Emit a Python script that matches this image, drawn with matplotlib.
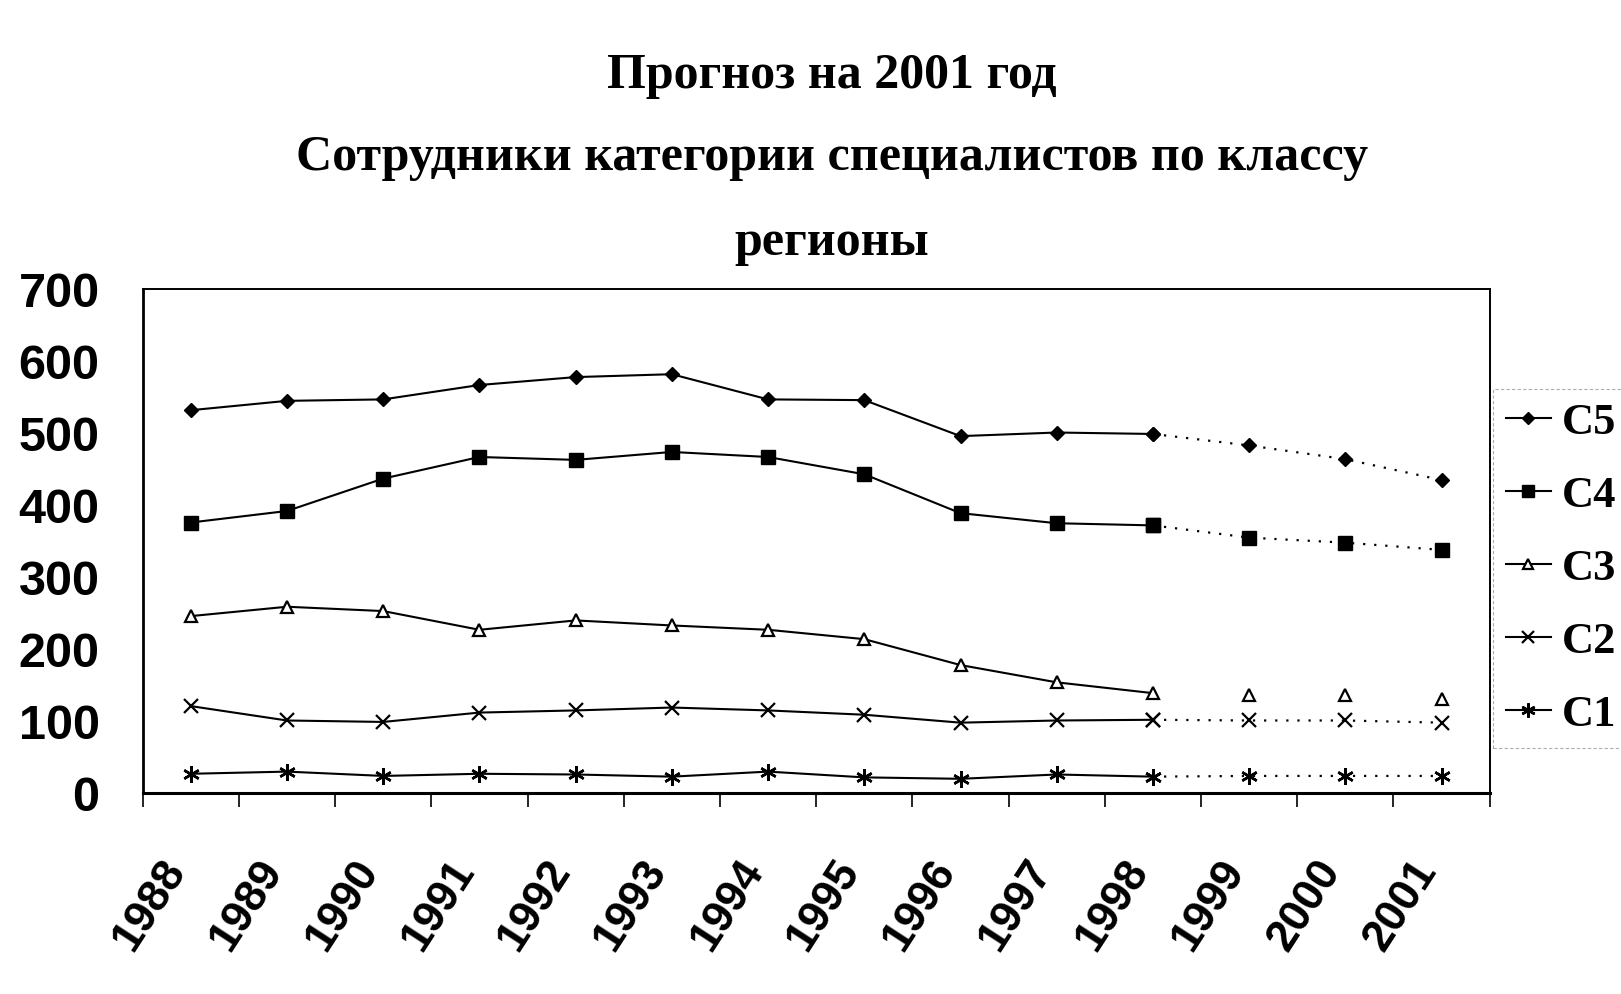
import matplotlib
matplotlib.use("Agg")
import matplotlib.pyplot as plt
import matplotlib.transforms as mtransforms
import numpy as np

years = ["1988", "1989", "1990", "1991", "1992", "1993", "1994",
         "1995", "1996", "1997", "1998", "1999", "2000", "2001"]
c5 = [532, 545, 547, 567, 578, 582, 547, 546, 496, 501, 499, 483, 464, 435]
c4 = [376, 392, 437, 467, 463, 474, 467, 443, 389, 375, 372, 355, 348, 338]
c3 = [246, 259, 253, 227, 240, 233, 227, 214, 178, 154, 139, 136, 136, 131]
c2 = [121, 101, 99, 112, 115, 119, 115, 109, 98, 101, 102, 101, 101, 98]
c1 = [27, 30, 24, 27, 26, 23, 30, 22, 20, 26, 23, 24, 24, 24]
names = ["C5", "C4", "C3", "C2", "C1"]
last_actual = "1998"

title_lines = ["Прогноз на 2001 год",
               "Сотрудники категории специалистов по классу",
               "регионы"]

fig = plt.figure(figsize=(16.21, 9.94), dpi=100)
ax = fig.add_axes([0.088, 0.202, 0.831, 0.507])

x = np.arange(len(years))
k = years.index(last_actual)

styles = [
    dict(marker="D", ms=7, mfc="black", mec="black"),
    dict(marker="s", ms=10, mfc="black", mec="black"),
    dict(marker="^", ms=9, mfc="white", mec="black", mew=1.6),
    dict(marker="x", ms=10, mfc="black", mec="black", mew=1.6),
    dict(marker=(6, 2, 0), ms=12, mfc="black", mec="black", mew=1.8),
]
series = [c5, c4, c3, c2, c1]

handles = []
for name, vals, st in zip(names, series, styles):
    vals = np.array(vals, dtype=float)
    h, = ax.plot(x[:k + 1], vals[:k + 1], color="black", lw=1.5, **st)
    if name == "C3":
        ax.plot(x[k + 1:], vals[k + 1:], color="black", lw=0, **st)
    else:
        ax.plot(x[k:], vals[k:], color="black", lw=1.6, ls=(0, (1, 4)), **st)
    handles.append(h)

ax.set_xlim(-0.5, len(years) - 0.5)
ax.set_ylim(0, 700)
ax.set_yticks(np.arange(0, 701, 100))
ax.set_yticklabels([str(v) for v in range(0, 701, 100)],
                   fontfamily="Liberation Sans", fontweight="bold", fontsize=35)
ax.tick_params(axis="y", length=0, pad=31)

ax.set_xticks(x)
ax.set_xticklabels(years, rotation=57, rotation_mode="anchor", ha="right",
                   va="center", fontfamily="Liberation Sans",
                   fontweight="bold", fontsize=32)
ax.tick_params(axis="x", which="major", length=0, pad=22)
offset = mtransforms.ScaledTranslation(-0.14, -0.40, fig.dpi_scale_trans)
for lab in ax.get_xticklabels():
    lab.set_transform(lab.get_transform() + offset)
ax.set_xticks(np.arange(-0.5, len(years), 1.0), minor=True)
ax.tick_params(axis="x", which="minor", length=10, width=1.2, direction="out")

for s in ax.spines.values():
    s.set_linewidth(1.4)
    s.set_color("black")
ax.spines["bottom"].set_linewidth(2.2)
ax.spines["left"].set_linewidth(2.0)

ys = [0.924, 0.841, 0.756]
for t, yy in zip(title_lines, ys):
    fig.text(0.513, yy, t, ha="center", va="center",
             fontfamily="Liberation Serif", fontweight="bold", fontsize=36)

leg = fig.legend(handles, names, loc="center left",
                 bbox_to_anchor=(0.921, 0.428),
                 prop={"family": "Liberation Serif", "weight": "bold", "size": 32},
                 frameon=True, fancybox=False, edgecolor="#999999",
                 handlelength=1.0, handletextpad=0.25, labelspacing=0.74,
                 borderpad=0.3, borderaxespad=0.0, markerscale=0.85)
leg.get_frame().set_linewidth(0.8)
leg.get_frame().set_linestyle((0, (3, 2)))

fig.savefig("out.png", dpi=100)
